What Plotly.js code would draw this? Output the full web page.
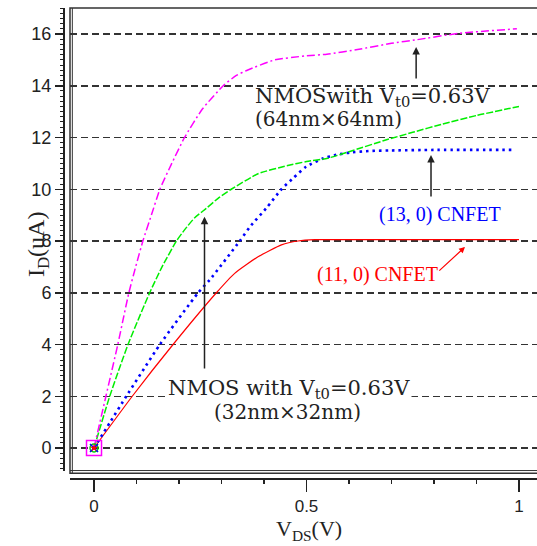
<!DOCTYPE html>
<html>
<head>
<meta charset="utf-8">
<script src="https://cdn.plot.ly/plotly-3.0.1.min.js"></script>
<style>html,body{margin:0;padding:0;background:#fff;}#chart{width:537px;height:546px;}</style>
</head>
<body>
<div id="chart"></div>
<script>
// NMOS 64nm x 64nm (magenta, dash-dot)
const vdsNmos64 = [0, 0.028, 0.056, 0.082, 0.098, 0.115, 0.135, 0.155, 0.183, 0.213, 0.255, 0.304, 0.335, 0.362, 0.425, 0.496, 0.548, 0.62, 0.7, 0.76, 0.86, 0.995];
const idNmos64  = [0, 2, 4, 6, 7, 8, 9, 10, 11, 12, 13.1, 14, 14.4, 14.61, 15.0, 15.15, 15.22, 15.4, 15.64, 15.78, 16.03, 16.2];
// NMOS 32nm x 32nm (green, dashed)
const vdsNmos32 = [0, 0.037, 0.08, 0.131, 0.16, 0.194, 0.213, 0.237, 0.264, 0.292, 0.323, 0.386, 0.456, 0.5, 0.55, 0.6, 0.69, 0.75, 0.82, 0.9, 1.0];
const idNmos32  = [0, 2, 4, 6, 7, 8, 8.43, 8.9, 9.26, 9.65, 10.0, 10.6, 10.92, 11.07, 11.2, 11.45, 11.92, 12.2, 12.52, 12.85, 13.2];
// (13,0) CNFET (blue, dotted)
const vdsCnt13 = [0, 0.038, 0.076, 0.155, 0.245, 0.272, 0.343, 0.367, 0.407, 0.441, 0.47, 0.499, 0.54, 0.57, 0.602, 0.65, 0.7, 0.8, 0.99];
const idCnt13  = [0, 1, 2, 4, 6, 6.49, 8, 8.55, 9.3, 10, 10.45, 10.87, 11.2, 11.33, 11.42, 11.48, 11.5, 11.52, 11.52];
// (11,0) CNFET (red, solid)
const vdsCnt11 = [0, 0.09, 0.186, 0.288, 0.331, 0.386, 0.441, 0.48, 0.52, 0.6, 0.8, 1.0];
const idCnt11  = [0, 2, 4, 6, 6.75, 7.39, 7.85, 8.0, 8.05, 8.05, 8.05, 8.05];

const yTickStep = 2, yMinorStep = 0.2, xTickStep = 0.5, xMinorStep = 0.1;

const ink = '#222';
const serif = 'Liberation Serif, Times New Roman, serif';
const wideSerif = 'DejaVu Serif, serif';
const sans = 'Liberation Sans, Arial, sans-serif';
const smooth = {shape: 'spline', smoothing: 0.5};

const traces = [
  {x: vdsCnt11, y: idCnt11, mode: 'lines', line: Object.assign({color: '#ff0000', width: 1.2}, smooth)},
  {x: vdsCnt13, y: idCnt13, mode: 'lines', line: Object.assign({color: '#0000ff', width: 2.6, dash: '2.5px,4px'}, smooth)},
  {x: vdsNmos32, y: idNmos32, mode: 'lines', line: Object.assign({color: '#00ee00', width: 1.5, dash: '7px,2px'}, smooth)},
  {x: vdsNmos64, y: idNmos64, mode: 'lines', line: Object.assign({color: '#ff00ff', width: 1.5, dash: '8px,3px,2px,3px'}, smooth)},
  {x: [vdsNmos64[0]], y: [idNmos64[0]], mode: 'markers', marker: {symbol: 'square-open', size: 15, color: '#ff00ff', line: {width: 1.5, color: '#ff00ff'}}},
  {x: [vdsNmos32[0]], y: [idNmos32[0]], mode: 'markers', marker: {symbol: 'circle-open', size: 8, color: '#00cc00', line: {width: 1.5, color: '#00cc00'}}},
  {x: [vdsCnt13[0]], y: [idCnt13[0]], mode: 'markers', marker: {symbol: 'x-thin-open', size: 8, color: '#0000ff', line: {width: 1.5, color: '#0000ff'}}},
  {x: [vdsCnt11[0]], y: [idCnt11[0]], mode: 'markers', marker: {symbol: 'star', size: 6, color: '#ff0000'}}
];

const arrowBase = {showarrow: true, text: '', axref: 'x', ayref: 'y', arrowhead: 2, arrowsize: 1, arrowwidth: 1.5, arrowcolor: ink};

const layout = {
  width: 537, height: 546,
  margin: {l: 63, r: 0, t: 8, b: 68},
  paper_bgcolor: '#fff', plot_bgcolor: '#fff',
  showlegend: false,
  xaxis: {
    domain: [0.01477, 1], range: [-0.0565, 1.0424],
    anchor: 'free', position: 0,
    showline: true, linecolor: ink, linewidth: 1.5,
    ticks: 'outside', tick0: 0, dtick: xTickStep, ticklen: 12, tickwidth: 1.5, tickcolor: ink,
    minor: {ticks: 'outside', dtick: xMinorStep, tick0: 0, ticklen: 4, tickwidth: 1.5, tickcolor: ink, showgrid: false},
    showgrid: false, zeroline: false,
    tickfont: {family: sans, size: 17, color: ink}
  },
  yaxis: {
    domain: [0.0149, 1], range: [-0.889, 17.005],
    anchor: 'free', position: 0,
    showline: true, linecolor: ink, linewidth: 1.5,
    ticks: 'outside', tick0: 0, dtick: yTickStep, ticklen: 8, tickwidth: 1.5, tickcolor: ink,
    minor: {ticks: 'outside', dtick: yMinorStep, tick0: 0, ticklen: 3, tickwidth: 1, tickcolor: ink, showgrid: false},
    showgrid: true, gridcolor: '#333', gridwidth: 1.5, griddash: '7px,4px',
    zeroline: false,
    tickfont: {family: sans, size: 18, color: ink}
  },
  shapes: [
    {type: 'rect', xref: 'x domain', yref: 'y domain', x0: 0, x1: 1.02, y0: -0.005, y1: 1, line: {color: '#333', width: 1.5}},
    {type: 'line', xref: 'x domain', yref: 'y domain', x0: 0.005, x1: 0.005, y0: -0.005, y1: 1, line: {color: '#333', width: 1}},
    {type: 'line', xref: 'x domain', yref: 'y domain', x0: 0, x1: 1, y0: 0.001, y1: 0.001, line: {color: '#333', width: 1}}
  ],
  annotations: [
    {xref: 'paper', yref: 'paper', x: -0.0886, y: 0.4957, text: 'I<sub>D</sub>(uA)', textangle: -90, showarrow: false,
     font: {family: serif, size: 24, color: ink}},
    {xref: 'paper', yref: 'paper', x: 0.519, y: -0.0766, yanchor: 'top', text: 'V<sub>DS</sub>(V)', showarrow: false,
     font: {family: serif, size: 22, color: ink}},
    {x: 0.374, y: 13.565, xanchor: 'left', yanchor: 'middle', showarrow: false,
     text: 'NMOSwith V<sub>t0</sub>=0.63V', font: {family: wideSerif, size: 21, color: ink}},
    {x: 0.374, y: 12.72, xanchor: 'left', yanchor: 'middle', showarrow: false,
     text: '(64nm×64nm)', font: {family: wideSerif, size: 20, color: ink}},
    {x: 0.459, y: 2.28, xanchor: 'center', yanchor: 'middle', showarrow: false, bgcolor: '#fff',
     text: 'NMOS with V<sub>t0</sub>=0.63V', font: {family: wideSerif, size: 21, color: ink}},
    {x: 0.456, y: 1.39, xanchor: 'center', yanchor: 'middle', showarrow: false,
     text: '(32nm×32nm)', font: {family: wideSerif, size: 20, color: ink}},
    {x: 0.814, y: 9.04, showarrow: false, text: '(13, 0) CNFET', font: {family: serif, size: 20, color: '#0000ff'}},
    {x: 0.666, y: 6.72, showarrow: false, text: '(11, 0) CNFET', font: {family: serif, size: 20, color: '#ff0000'}},
    Object.assign({}, arrowBase, {x: 0.758, y: 15.5, ax: 0.758, ay: 14.22}),
    Object.assign({}, arrowBase, {x: 0.793, y: 11.32, ax: 0.793, ay: 9.66}),
    Object.assign({}, arrowBase, {x: 0.26, y: 8.94, ax: 0.26, ay: 3.01}),
    Object.assign({}, arrowBase, {x: 0.873, y: 7.77, ax: 0.809, ay: 6.8, arrowcolor: '#ff0000', arrowwidth: 1.2})
  ]
};

Plotly.newPlot('chart', traces, layout, {staticPlot: true, displayModeBar: false});
</script>
</body>
</html>
